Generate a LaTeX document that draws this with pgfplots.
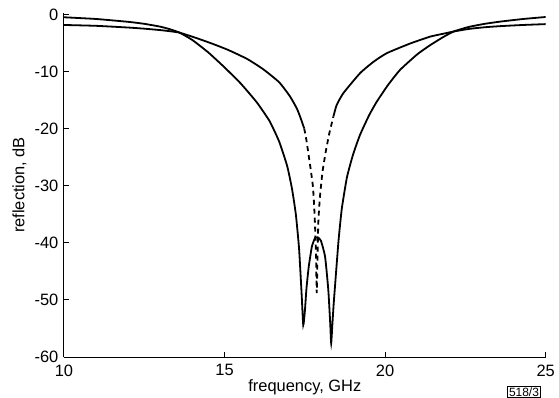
\documentclass[border=0pt]{standalone}
\usepackage{pgfplots}
\pgfplotsset{compat=1.18}
\usepackage{fontspec}
\setmainfont{Liberation Sans}
\begin{document}
\fontsize{16.5}{19}\selectfont
\begin{tikzpicture}
\useasboundingbox (-64bp,-41bp) rectangle (495bp,357bp);
\begin{axis}[
  at={(0,0)}, anchor=south west,
  scale only axis, width=481.7bp, height=344bp,
  xmin=10, xmax=25, ymin=-60, ymax=0.35,
  axis x line=bottom, axis y line=left,
  axis line style={-, line width=1bp},
  xtick={10,15,20,25}, xticklabels={10,15,20,25},
  ytick={-60,-50,-40,-30,-20,-10,0},
  yticklabels={-60,-50,-40,-30,-20,-10,0},
  tick align=inside, major tick length=5bp,
  tick style={line width=1bp, black},
  xlabel={frequency, GHz}, ylabel={reflection, dB},
  xticklabel style={yshift=-2bp},
  xlabel style={yshift=8bp},
  ylabel style={yshift=-3bp},
]
% outer curve (double dip)
\addplot[black, line width=1.8bp, smooth, tension=0.3] coordinates {
(10,-0.4) (11,-0.7) (12,-1.2) (12.5,-1.55) (13,-2.05) (13.3,-2.5) (13.6,-3.1)
(14.0,-4.4) (14.5,-6.6) (15.0,-9.2) (15.5,-12.0) (16.0,-15.3) (16.4,-18.6)
(16.7,-22.2) (16.95,-26.5) (17.1,-30.5) (17.22,-35) (17.32,-41) (17.40,-49)
(17.45,-54.4) (17.50,-52.0)
(17.55,-48.0) (17.62,-44.2) (17.72,-40.6) (17.82,-39.1) (17.90,-39.0)
(18.00,-39.6) (18.13,-42.4) (18.23,-48.2) (18.29,-54.1) (18.32,-57.6)
(18.36,-54.0) (18.40,-50.5) (18.47,-45.3) (18.55,-39.5) (18.65,-34.0)
(18.81,-28.5) (19.0,-24.5) (19.22,-21.0) (19.5,-17.6) (19.74,-15.2) (20.1,-12.2)
(20.47,-9.6) (21.0,-6.9) (21.4,-5.3) (21.8,-3.9) (22.13,-2.9) (22.6,-2.1)
(23.1,-1.55) (23.6,-1.15) (24.3,-0.7) (25,-0.35)
};
% inner curve, solid parts
\addplot[black, line width=1.8bp, smooth, tension=0.3] coordinates {
(10,-1.75) (11,-1.9) (12,-2.2) (12.5,-2.4) (13,-2.65) (13.3,-2.85) (13.6,-3.1)
(14.1,-4.0) (14.6,-5.0) (15.1,-6.1) (15.7,-7.7) (16.2,-9.5) (16.7,-11.8)
(17.04,-14.3) (17.25,-16.4) (17.35,-17.8) (17.48,-19.9)
};
\addplot[black, line width=1.8bp, smooth, tension=0.3] coordinates {
(18.39,-17.8) (18.49,-15.8) (18.70,-13.7) (19.22,-10.2) (19.64,-8.2)
(20.05,-6.7) (20.78,-5.0) (21.4,-3.8) (21.8,-3.3) (22.13,-2.9) (22.6,-2.45)
(23.1,-2.15) (23.6,-1.95) (24.3,-1.75) (25,-1.6)
};
% inner curve, dotted centre
\addplot[black, line width=1.8bp, dash pattern=on 5bp off 4bp, smooth, tension=0.3] coordinates {
(17.48,-19.9) (17.55,-22.0) (17.61,-24.3) (17.68,-27.0) (17.75,-30.0)
(17.79,-33.5) (17.82,-37.4) (17.85,-43.0) (17.87,-48.8) (17.89,-43.5)
(17.92,-36.3) (17.97,-31.9) (18.05,-27.5) (18.15,-24.0) (18.26,-20.8)
(18.39,-17.8)
};
\end{axis}
\node[draw, line width=0.7bp, inner sep=1.2bp, font=\fontsize{12}{14}\selectfont] at (460bp,-35bp) {518/3};
\end{tikzpicture}
\end{document}
